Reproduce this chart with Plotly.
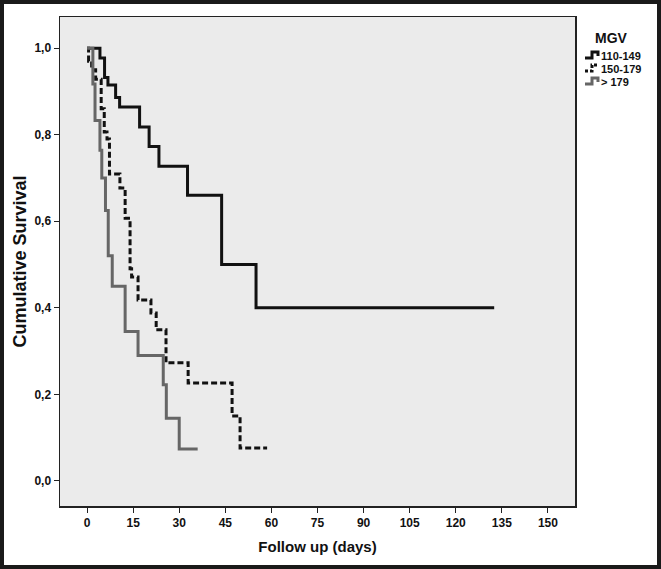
import plotly.graph_objects as go

# Group 110-149 (solid black)
t_110 = [0, 4.2, 5.7, 6.8, 9.3, 10.6, 17.1, 20.2, 23.4, 32.7, 43.8, 55.0, 132.5]
s_110 = [1.0, 0.977, 0.932, 0.915, 0.886, 0.864, 0.818, 0.773, 0.727, 0.66, 0.5, 0.4, 0.4]

# Group 150-179 (dashed black)
t_150 = [0, 0.5, 1.5, 2.8, 4.6, 5.6, 6.5, 7.3, 10.7, 12.4, 14.0, 14.5, 16.6, 20.8, 22.5, 25.7, 32.9, 47.2, 49.8, 58.6]
s_150 = [1.0, 0.97, 0.95, 0.928, 0.86, 0.806, 0.79, 0.709, 0.677, 0.607, 0.49, 0.471, 0.418, 0.388, 0.349, 0.273, 0.226, 0.15, 0.076, 0.076]

# Group > 179 (grey)
t_179 = [0, 1.9, 2.6, 4.2, 4.8, 6.0, 6.9, 8.2, 12.4, 16.6, 24.8, 25.8, 30.0, 36.0]
s_179 = [1.0, 0.917, 0.833, 0.764, 0.70, 0.625, 0.52, 0.45, 0.345, 0.29, 0.222, 0.145, 0.074, 0.074]

group_names = ["110-149", "150-179", "> 179"]
legend_title = "MGV"

x_ticks = [0, 15, 30, 45, 60, 75, 90, 105, 120, 135, 150]
y_ticks = [0.0, 0.2, 0.4, 0.6, 0.8, 1.0]

FONT = "Liberation Sans, Arial, sans-serif"
W, H = 661, 569
L, R, T, B = 60, 575, 17, 506  # plot area in pixels


def px(x):
    return (x - L) / (R - L)


def py(y):
    return (B - y) / (B - T)


styles = [
    dict(color="#111111", width=3, dash="solid"),
    dict(color="#111111", width=3, dash="6px,3px"),
    dict(color="#666666", width=3, dash="solid"),
]

fig = go.Figure()
for t, s, name, st in zip([t_110, t_150, t_179], [s_110, s_150, s_179], group_names, styles):
    fig.add_trace(go.Scatter(x=t, y=s, mode="lines", name=name, showlegend=False, hoverinfo="skip",
                             line=dict(color=st["color"], width=st["width"], dash=st["dash"], shape="hv")))

# custom legend (step glyphs like the original)
shapes = []
annotations = []
annotations.append(dict(xref="paper", yref="paper", x=px(611), y=py(38), text=f"<b>{legend_title}</b>",
                        showarrow=False, xanchor="center", yanchor="middle",
                        font=dict(size=14, family=FONT, color="#111111")))
row_y = [56, 69, 82]
glyphs = [
    [(585, 2), (592, 2), (592, -4), (598, -4), (598, 0)],
    [(585, 2), (592, 2), (592, -4), (599, -4)],
    [(585, 2), (592, 2), (592, -4), (598, -4), (598, 0)],
]
for name, st, yc, g in zip(group_names, styles, row_y, glyphs):
    path = "M " + " L ".join(f"{px(gx):.5f},{py(yc + gy):.5f}" for gx, gy in g)
    shapes.append(dict(type="path", xref="paper", yref="paper", path=path,
                       line=dict(color=st["color"], width=st["width"],
                                 dash="3px,2px" if st["dash"] != "solid" else "solid"),
                       layer="above"))
    annotations.append(dict(xref="paper", yref="paper", x=px(599), y=py(yc), text=f"<b>{name}</b>",
                            showarrow=False, xanchor="left", yanchor="middle",
                            font=dict(size=11, family=FONT, color="#111111")))

# outer dark frame of the picture
shapes.append(dict(type="rect", xref="paper", yref="paper",
                   x0=px(2), x1=px(W - 2), y0=py(H - 2), y1=py(2),
                   line=dict(color="#1a1a1a", width=4), layer="above"))

fig.update_layout(
    width=W, height=H,
    margin=dict(l=L, r=W - R, t=T, b=H - B, autoexpand=False),
    paper_bgcolor="white",
    plot_bgcolor="#ebebeb",
    font=dict(family=FONT, color="#111111"),
    showlegend=False,
    hovermode=False,
    xaxis=dict(
        range=[-8.8, 158.8], tickvals=x_ticks, ticktext=[f"<b>{v}</b>" for v in x_ticks],
        showgrid=False, zeroline=False, automargin=False, fixedrange=True,
        showline=True, mirror=True, linecolor="#222222", linewidth=1.5,
        ticks="outside", ticklen=5, tickwidth=1, tickcolor="#222222",
        tickfont=dict(size=12, family=FONT),
        title=dict(text="<b>Follow up (days)</b>", font=dict(size=15, family=FONT), standoff=12),
    ),
    yaxis=dict(
        range=[-0.058, 1.072], tickvals=y_ticks,
        ticktext=[f"<b>{v:.1f}</b>".replace(".", ",") for v in y_ticks],
        showgrid=False, zeroline=False, automargin=False, fixedrange=True,
        showline=True, mirror=True, linecolor="#222222", linewidth=1.5,
        ticks="outside", ticklen=5, tickwidth=1, tickcolor="#222222",
        tickfont=dict(size=12, family=FONT),
        title=dict(text="<b>Cumulative Survival</b>", font=dict(size=18, family=FONT), standoff=3),
    ),
    shapes=shapes,
    annotations=annotations,
)

fig.write_html("out.html", config={"displayModeBar": False, "staticPlot": True},
               post_script="document.body.style.margin='0';document.body.style.overflow='hidden';")
